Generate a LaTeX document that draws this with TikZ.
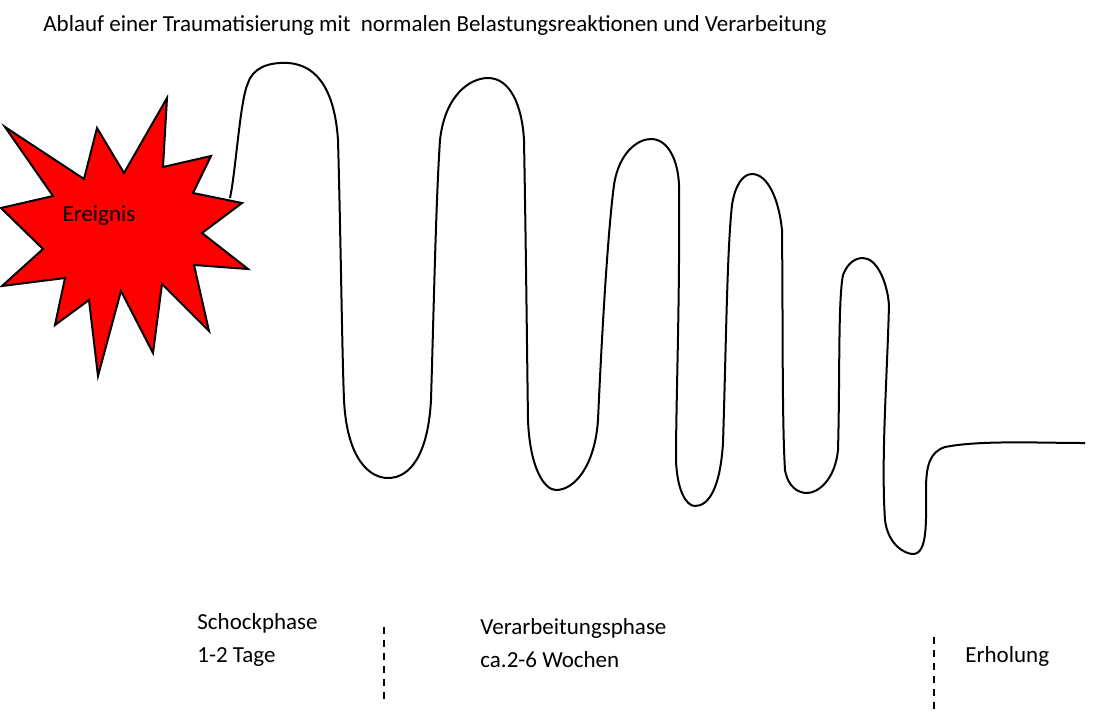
\documentclass[tikz,border=0pt]{standalone}
\usepackage{fontspec}
\setmainfont{Carlito}
\usepackage{xcolor}
\definecolor{eventred}{RGB}{255,0,0}

\begin{document}
\begin{tikzpicture}[x=0.5pt,y=-0.5pt]
    \tikzstyle{phasetext} = [anchor=west, inner sep=0pt, align=left, font=\fontsize{11.5}{16.5}\selectfont]
    \tikzstyle{divider} = [line width=1pt, dash pattern=on 3.5pt off 3pt]
    \tikzstyle{wave} = [line width=1pt]
    \tikzstyle{burst} = [draw, line width=1pt, fill=eventred, line join=miter]

    \useasboundingbox (0,0) rectangle (1099,720);

    \node[phasetext] (title) at (43,25) {Ablauf einer Traumatisierung mit \ normalen Belastungsreaktionen und Verarbeitung};

    % Ereignis
    \draw[burst] (5,127) -- (84,179) -- (97,128) -- (124,173) -- (167,98) -- (163,167)
        -- (211,156) -- (193,193) -- (242,203) -- (202,233) -- (248,269) -- (194,265)
        -- (209,331) -- (162,284) -- (153,353) -- (121,291) -- (98,376) -- (89,300)
        -- (55,325) -- (65,278) -- (2,286) -- (43,249) -- (1,208) -- (53,196) -- cycle;
    \node[phasetext, anchor=center] (event) at (99,216) {Ereignis};

    % Belastungsreaktionen
    \draw[wave] (230,198) .. controls (236,170) and (240,100) .. (248,83)
        .. controls (253,68) and (268,62) .. (288,63)
        .. controls (320,65) and (335,95) .. (338,140)
        .. controls (341,250) and (342,350) .. (344,400)
        .. controls (347,460) and (370,478) .. (388,478)
        .. controls (410,478) and (428,455) .. (431,400)
        .. controls (434,300) and (436,200) .. (440,140)
        .. controls (445,95) and (470,78) .. (488,78)
        .. controls (510,78) and (522,105) .. (524,140)
        .. controls (526,250) and (527,350) .. (528,420)
        .. controls (530,470) and (545,490) .. (556,490)
        .. controls (575,490) and (595,465) .. (598,420)
        .. controls (602,330) and (608,230) .. (614,185)
        .. controls (619,152) and (638,139) .. (651,139)
        .. controls (668,139) and (678,160) .. (679,185)
        .. controls (680,300) and (676,400) .. (676,460)
        .. controls (677,490) and (686,506) .. (695,506)
        .. controls (708,506) and (720,490) .. (723,443)
        .. controls (726,350) and (727,250) .. (732,205)
        .. controls (735,185) and (743,174) .. (752,174)
        .. controls (768,174) and (779,200) .. (782,230)
        .. controls (783,330) and (782,420) .. (785,470)
        .. controls (788,487) and (798,493) .. (807,493)
        .. controls (818,493) and (835,480) .. (838,450)
        .. controls (840,380) and (838,300) .. (843,275)
        .. controls (848,262) and (856,258) .. (863,258)
        .. controls (876,258) and (887,280) .. (889,305)
        .. controls (887,380) and (881,460) .. (885,520)
        .. controls (888,545) and (905,554) .. (913,554)
        .. controls (928,554) and (926,520) .. (926,490)
        .. controls (926,465) and (930,452) .. (945,447)
        .. controls (980,440) and (1040,443) .. (1085,443);

    % Phasen
    \node[phasetext] (shock) at (197,640) {Schockphase\\1-2 Tage};
    \node[phasetext] (process) at (480,643) {Verarbeitungsphase\\ca.2-6 Wochen};
    \node[phasetext] (recovery) at (965,656) {Erholung};

    \draw[divider] (384,627) -- (384,700);
    \draw[divider] (934,637) -- (934,710);
\end{tikzpicture}
\end{document}
